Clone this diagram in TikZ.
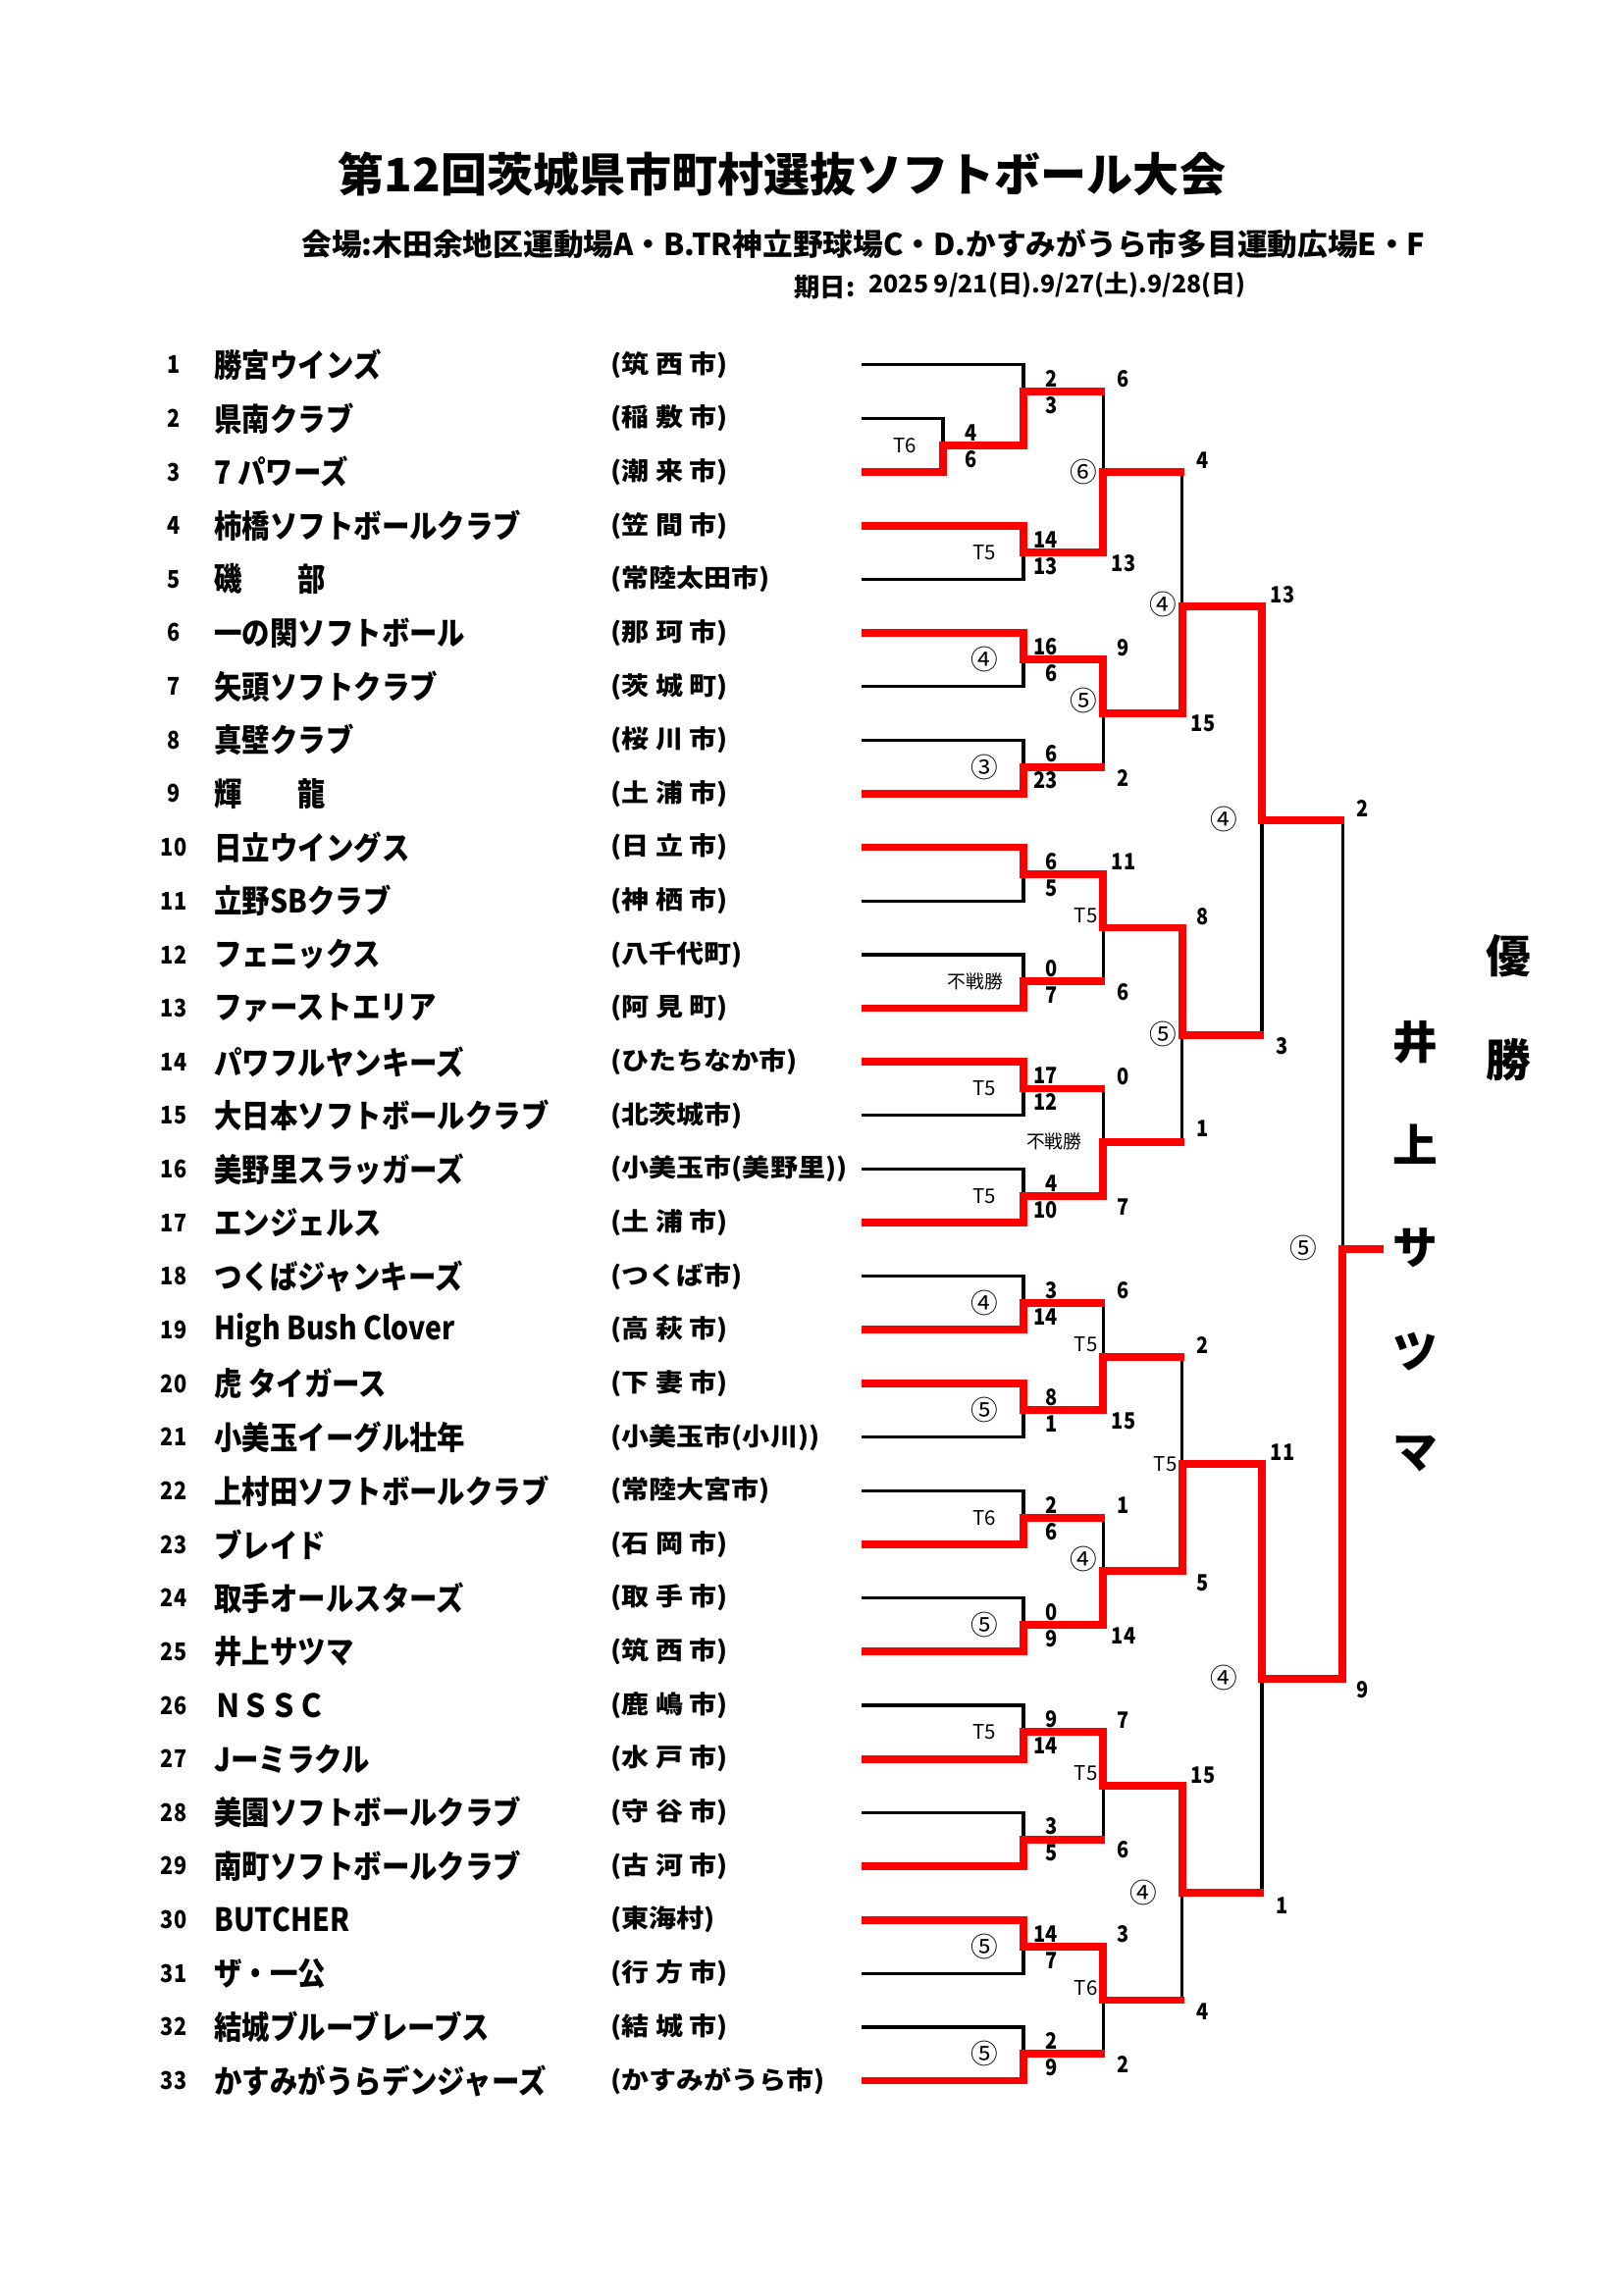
\documentclass[tikz,border=0pt]{standalone}
\usepackage{fontspec}
\setmainfont{Noto Sans CJK JP}
\newfontfamily\jn{Noto Sans CJK JP}
\newfontfamily\jc{Noto Sans CJK JP}[FakeStretch=0.87]
\newfontfamily\jw{Noto Sans CJK JP}[FakeStretch=1.1]
\newcommand\csz{\fontsize{10pt}{11pt}\selectfont}
\pgfmathdeclarefunction{ry}{1}{\pgfmathparse{371.7+(#1-1)*54.65}}
\def\XA{878}\def\XP{961}\def\XB{1043}\def\XC{1124.3}\def\XD{1204.6}\def\XE{1286}\def\XF{1368.2}\def\XG{1410}
\tikzset{
 bk/.style={line width=0.42mm, black, line join=miter},
 rd/.style={line width=1mm, red, line join=miter},
 sc/.style={font=\jc\bfseries\fontsize{8.3pt}{9pt}\selectfont, inner sep=0pt},
 lb/.style={font=\jn\fontsize{7.4pt}{8pt}\selectfont, inner sep=0pt},
 fs/.style={font=\jn\fontsize{6.8pt}{7pt}\selectfont, inner sep=0pt},
 tnum/.style={font=\jc\bfseries\fontsize{9pt}{10pt}\selectfont, inner sep=0pt},
 tname/.style={font=\jc\bfseries\fontsize{11.8pt}{12pt}\selectfont, inner sep=0pt, anchor=west},
 city/.style={font=\jw\bfseries\fontsize{9.2pt}{10pt}\selectfont, inner sep=0pt, anchor=west},
 win/.style={font=\jn\bfseries\fontsize{16.5pt}{17pt}\selectfont, inner sep=0pt},
}
\begin{document}
\begin{tikzpicture}[x=0.127mm,y=-0.127mm]
\useasboundingbox (0,0) rectangle (1654,2339);
% titles
\node[font=\jn\bfseries\fontsize{17pt}{18pt}\selectfont, inner sep=0pt] (title) at (797,178) {第12回茨城県市町村選抜ソフトボール大会};
\node[font=\jn\bfseries\fontsize{11.1pt}{12pt}\selectfont, inner sep=0pt] (venue) at (880,248.5) {会場:木田余地区運動場A・B.TR神立野球場C・D.かすみがうら市多目運動広場E・F};
\node[font=\jn\bfseries\fontsize{9.5pt}{10pt}\selectfont, inner sep=0pt, anchor=west] (datel) at (809,293) {期日:};
\node[font=\jn\bfseries\fontsize{9pt}{10pt}\selectfont, inner sep=0pt, anchor=west] (date) at (885,290) {2025 9/21(日).9/27(土).9/28(日)};
% teams
\foreach \n/\nm/\ct in {1/勝宮ウインズ/{(筑 西 市)}, 2/県南クラブ/{(稲 敷 市)}, 3/7 パワーズ/{(潮 来 市)}, 4/柿橋ソフトボールクラブ/{(笠 間 市)}, 5/磯　　部/{(常陸太田市)}, 6/一の関ソフトボール/{(那 珂 市)}, 7/矢頭ソフトクラブ/{(茨 城 町)}, 8/真壁クラブ/{(桜 川 市)}, 9/輝　　龍/{(土 浦 市)}, 10/日立ウイングス/{(日 立 市)}, 11/立野SBクラブ/{(神 栖 市)}, 12/フェニックス/{(八千代町)}, 13/ファーストエリア/{(阿 見 町)}, 14/パワフルヤンキーズ/{(ひたちなか市)}, 15/大日本ソフトボールクラブ/{(北茨城市)}, 16/美野里スラッガーズ/{(小美玉市(美野里))}, 17/エンジェルス/{(土 浦 市)}, 18/つくばジャンキーズ/{(つくば市)}, 19/High Bush Clover/{(高 萩 市)}, 20/虎 タイガース/{(下 妻 市)}, 21/小美玉イーグル壮年/{(小美玉市(小川))}, 22/上村田ソフトボールクラブ/{(常陸大宮市)}, 23/ブレイド/{(石 岡 市)}, 24/取手オールスターズ/{(取 手 市)}, 25/井上サツマ/{(筑 西 市)}, 26/ＮＳＳＣ/{(鹿 嶋 市)}, 27/Jーミラクル/{(水 戸 市)}, 28/美園ソフトボールクラブ/{(守 谷 市)}, 29/南町ソフトボールクラブ/{(古 河 市)}, 30/BUTCHER/{(東海村)}, 31/ザ・一公/{(行 方 市)}, 32/結城ブルーブレーブス/{(結 城 市)}, 33/かすみがうらデンジャーズ/{(かすみがうら市)}}
{
 \node[tnum] (no\n) at (177,{ry(\n)}) {\n};
 \node[tname] (nm\n) at (218,{ry(\n)}) {\nm};
 \node[city] (ct\n) at (622,{ry(\n)}) {\ct};
}
% black bracket structure
\draw[bk] (\XA,{ry(2)}) -| (\XP,{ry(3)}) -- (\XA,{ry(3)});
\draw[bk] (\XP,{ry(2.5)}) -- (\XB,{ry(2.5)});
\draw[bk] (\XA,{ry(1)}) -| (\XB,{ry(2.5)});
\draw[bk] (\XB,{ry(1.5)}) -- (\XC,{ry(1.5)});
\foreach \a in {4,6,...,32} {
 \draw[bk] (\XA,{ry(\a)}) -| (\XB,{ry(\a+1)}) -- (\XA,{ry(\a+1)});
 \draw[bk] (\XB,{ry(\a+0.5)}) -- (\XC,{ry(\a+0.5)});
}
\foreach \ta/\tb/\tm in {1.5/4.5/3, 6.5/8.5/7.5, 10.5/12.5/11.5, 14.5/16.5/15.5, 18.5/20.5/19.5, 22.5/24.5/23.5, 26.5/28.5/27.5, 30.5/32.5/31.5} {
 \draw[bk] (\XC,{ry(\ta)}) -- (\XC,{ry(\tb)});
 \draw[bk] (\XC,{ry(\tm)}) -- (\XD,{ry(\tm)});
}
\foreach \ta/\tb/\tm in {3/7.5/5.5, 11.5/15.5/13.5, 19.5/23.5/21.5, 27.5/31.5/29.5} {
 \draw[bk] (\XD,{ry(\ta)}) -- (\XD,{ry(\tb)});
 \draw[bk] (\XD,{ry(\tm)}) -- (\XE,{ry(\tm)});
}
\foreach \ta/\tb/\tm in {5.5/13.5/9.5, 21.5/29.5/25.5} {
 \draw[bk] (\XE,{ry(\ta)}) -- (\XE,{ry(\tb)});
 \draw[bk] (\XE,{ry(\tm)}) -- (\XF,{ry(\tm)});
}
\draw[bk] (\XF,{ry(9.5)}) -- (\XF,{ry(25.5)});
% red winner paths
\draw[rd] (\XA,{ry(3)}) -- (\XP,{ry(3)}) -- (\XP,{ry(2.5)}) -- (\XB,{ry(2.5)}) -- (\XB,{ry(1.5)}) -- ({\XC+2},{ry(1.5)});
\draw[rd] (\XA,{ry(4)}) -- (\XB,{ry(4)}) -- (\XB,{ry(4.5)}) -- (\XC,{ry(4.5)}) -- (\XC,{ry(3)}) -- ({\XD+2},{ry(3)});
\draw[rd] (\XA,{ry(6)}) -- (\XB,{ry(6)}) -- (\XB,{ry(6.5)}) -- (\XC,{ry(6.5)}) -- (\XC,{ry(7.5)}) -- (\XD,{ry(7.5)}) -- (\XD,{ry(5.5)}) -- (\XE,{ry(5.5)}) -- (\XE,{ry(9.5)}) -- ({\XF+2},{ry(9.5)});
\draw[rd] (\XA,{ry(9)}) -- (\XB,{ry(9)}) -- (\XB,{ry(8.5)}) -- ({\XC+2},{ry(8.5)});
\draw[rd] (\XA,{ry(10)}) -- (\XB,{ry(10)}) -- (\XB,{ry(10.5)}) -- (\XC,{ry(10.5)}) -- (\XC,{ry(11.5)}) -- (\XD,{ry(11.5)}) -- (\XD,{ry(13.5)}) -- ({\XE+2},{ry(13.5)});
\draw[rd] (\XA,{ry(13)}) -- (\XB,{ry(13)}) -- (\XB,{ry(12.5)}) -- ({\XC+2},{ry(12.5)});
\draw[rd] (\XA,{ry(14)}) -- (\XB,{ry(14)}) -- (\XB,{ry(14.5)}) -- ({\XC+2},{ry(14.5)});
\draw[rd] (\XA,{ry(17)}) -- (\XB,{ry(17)}) -- (\XB,{ry(16.5)}) -- (\XC,{ry(16.5)}) -- (\XC,{ry(15.5)}) -- ({\XD+2},{ry(15.5)});
\draw[rd] (\XA,{ry(19)}) -- (\XB,{ry(19)}) -- (\XB,{ry(18.5)}) -- ({\XC+2},{ry(18.5)});
\draw[rd] (\XA,{ry(20)}) -- (\XB,{ry(20)}) -- (\XB,{ry(20.5)}) -- (\XC,{ry(20.5)}) -- (\XC,{ry(19.5)}) -- ({\XD+2},{ry(19.5)});
\draw[rd] (\XA,{ry(23)}) -- (\XB,{ry(23)}) -- (\XB,{ry(22.5)}) -- ({\XC+2},{ry(22.5)});
\draw[rd] (\XA,{ry(25)}) -- (\XB,{ry(25)}) -- (\XB,{ry(24.5)}) -- (\XC,{ry(24.5)}) -- (\XC,{ry(23.5)}) -- (\XD,{ry(23.5)}) -- (\XD,{ry(21.5)}) -- (\XE,{ry(21.5)}) -- (\XE,{ry(25.5)}) -- (\XF,{ry(25.5)}) -- (\XF,{ry(17.5)}) -- (\XG,{ry(17.5)});
\draw[rd] (\XA,{ry(27)}) -- (\XB,{ry(27)}) -- (\XB,{ry(26.5)}) -- (\XC,{ry(26.5)}) -- (\XC,{ry(27.5)}) -- (\XD,{ry(27.5)}) -- (\XD,{ry(29.5)}) -- ({\XE+2},{ry(29.5)});
\draw[rd] (\XA,{ry(29)}) -- (\XB,{ry(29)}) -- (\XB,{ry(28.5)}) -- ({\XC+2},{ry(28.5)});
\draw[rd] (\XA,{ry(30)}) -- (\XB,{ry(30)}) -- (\XB,{ry(30.5)}) -- (\XC,{ry(30.5)}) -- (\XC,{ry(31.5)}) -- ({\XD+2},{ry(31.5)});
\draw[rd] (\XA,{ry(33)}) -- (\XB,{ry(33)}) -- (\XB,{ry(32.5)}) -- ({\XC+2},{ry(32.5)});
% scores: pre-round
\node[sc] (p1u) at (990,{ry(2.5)-12.5}) {4};
\node[sc] (p1d) at (990,{ry(2.5)+14.5}) {6};
% scores: first round
\foreach \m/\u/\d [count=\i] in {1.5/2/3, 4.5/14/13, 6.5/16/6, 8.5/6/23, 10.5/6/5, 12.5/0/7, 14.5/17/12, 16.5/4/10, 18.5/3/14, 20.5/8/1, 22.5/2/6, 24.5/0/9, 26.5/9/14, 28.5/3/5, 30.5/14/7, 32.5/2/9} {
 \node[sc, anchor=east] (a\i u) at (1078,{ry(\m)-13}) {\u};
 \node[sc, anchor=east] (a\i d) at (1078,{ry(\m)+14}) {\d};
}
% scores: second round
\foreach \ta/\tb/\u/\d [count=\i] in {1.5/4.5/6/13, 6.5/8.5/9/2, 10.5/12.5/11/6, 14.5/16.5/0/7, 18.5/20.5/6/15, 22.5/24.5/1/14, 26.5/28.5/7/6, 30.5/32.5/3/2} {
 \node[sc] (b\i u) at (1145,{ry(\ta)-12.5}) {\u};
 \node[sc] (b\i d) at (1145,{ry(\tb)+11}) {\d};
}
% scores: later rounds
\foreach \x/\y/\s [count=\i] in {1226/469.3/4, 1226/737/15, 1226/934.3/8, 1226/1150/1, 1226/1371/2, 1226/1613.3/5, 1226/1809.3/15, 1226/2050/4, 1307/605.7/13, 1307/1065.7/3, 1307/1480/11, 1307/1941.7/1, 1388.6/824/2, 1388.6/1721.7/9} {
 \node[sc] (c\i) at (\x,\y) {\s};
}
% labels first round
\node[lb] (l0) at (922,{ry(2.5)}) {T6};
\foreach \m/\t [count=\i] in {4.5/T5, 6.5/{\csz ④}, 8.5/{\csz ③}, 14.5/T5, 16.5/T5, 18.5/{\csz ④}, 20.5/{\csz ⑤}, 22.5/T6, 24.5/{\csz ⑤}, 26.5/T5, 30.5/{\csz ⑤}, 32.5/{\csz ⑤}} {
 \node[lb] (l\i) at (1003,{ry(\m)}) {\t};
}
\node[fs] (fs1) at (994,{ry(12.5)}) {不戦勝};
% labels second round
\foreach \y/\t [count=\i] in {481/{\csz ⑥}, 714/{\csz ⑤}, 932.7/T5, 1370/T5, 1589.3/{\csz ④}, 1807.3/T5, 2026/T6} {
 \node[lb, anchor=east] (m\i) at (1119,\y) {\t};
}
\node[fs, anchor=east] (fs2) at (1103,1163.3) {不戦勝};
% labels later rounds
\node[lb, anchor=east] (n1) at (1200,616) {\csz ④};
\node[lb, anchor=east] (n2) at (1200,1054) {\csz ⑤};
\node[lb, anchor=east] (n3) at (1200,1491.7) {T5};
\node[lb] (n4) at (1165.4,1929.3) {\csz ④};
\node[lb] (n5) at (1247.5,835) {\csz ④};
\node[lb] (n6) at (1247.5,1710) {\csz ④};
\node[lb] (n7) at (1327.9,1271.7) {\csz ⑤};
% champion
\foreach \y/\c [count=\i] in {1062/井, 1166/上, 1272/サ, 1378/ツ, 1482/マ} {
 \node[win] (w\i) at (1442,\y) {\c};
}
\node[win] (v1) at (1537,974) {優};
\node[win] (v2) at (1537,1080) {勝};
\end{tikzpicture}
\end{document}
